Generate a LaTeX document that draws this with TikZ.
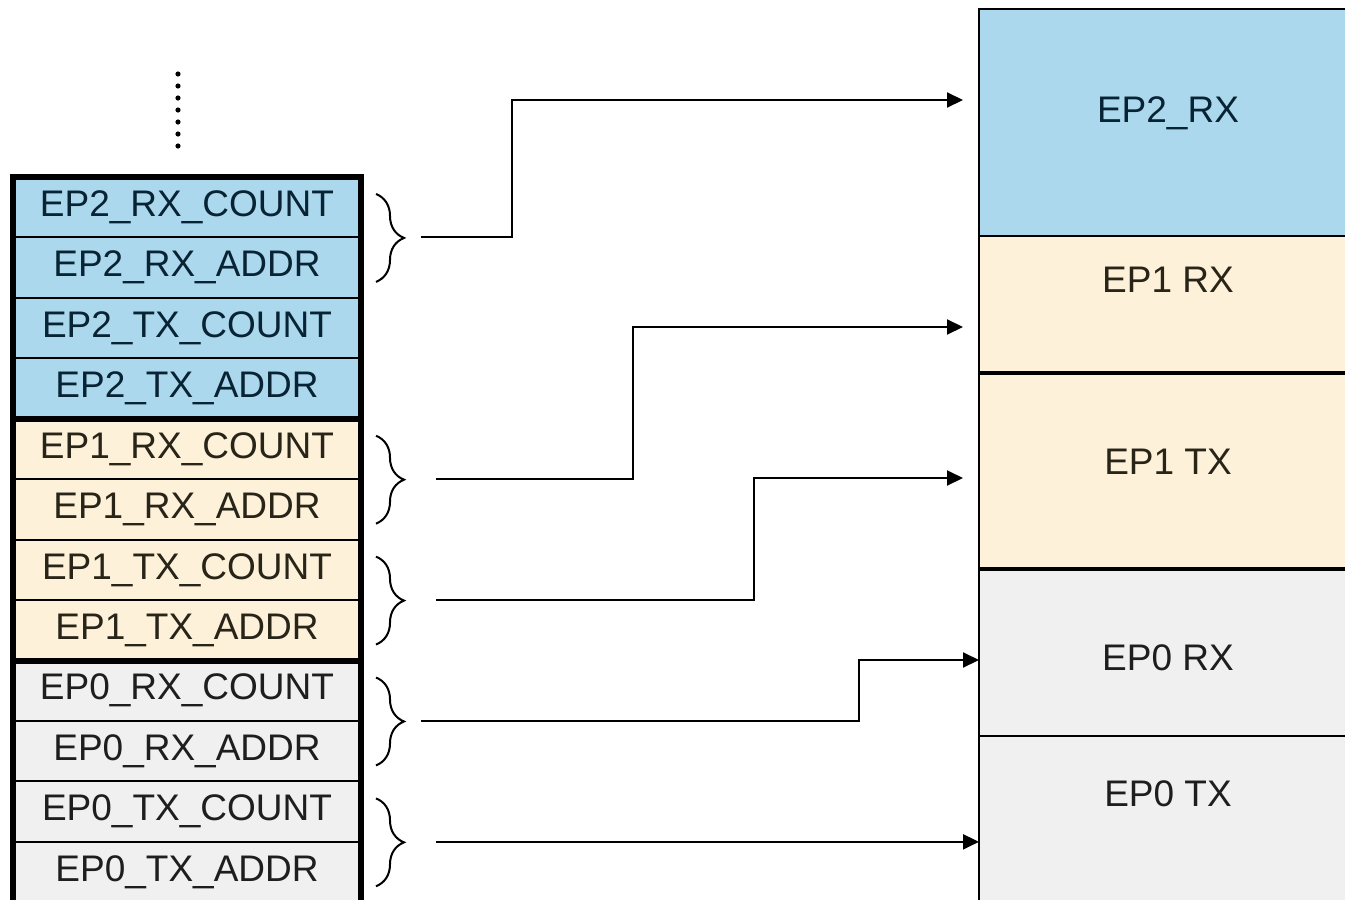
\documentclass[tikz,border=0pt]{standalone}
\usepackage{fontspec}
\setmainfont{Liberation Sans}
\usepackage{tikz}
\usetikzlibrary{matrix, arrows.meta, positioning, calc, decorations.pathreplacing}

\definecolor{bluecell}{RGB}{172,216,238}
\definecolor{beigecell}{RGB}{253,241,218}
\definecolor{graycell}{RGB}{240,240,240}
\definecolor{bluetext}{RGB}{8,36,52}
\definecolor{beigetext}{RGB}{40,36,24}
\definecolor{graytext}{RGB}{30,30,30}

\tikzset{
  cell/.style = {draw, line width=1pt, minimum width=174pt, minimum height=30.22pt,
                 inner sep=0pt, outer sep=0pt, font=\fontsize{18.5}{22}\selectfont},
  ep2/.style = {fill=bluecell, text=bluetext},
  ep1/.style = {fill=beigecell, text=beigetext},
  ep0/.style = {fill=graycell, text=graytext},
  grp/.style = {draw, line width=3pt},
  seg/.style = {draw, line width=0.9pt, minimum width=189pt, inner sep=0pt, outer sep=0pt},
  segtext/.style = {font=\fontsize{18.5}{22}\selectfont, inner sep=0pt},
  brc/.style = {decorate, decoration={brace, amplitude=14pt}, line width=1pt},
  link/.style = {draw, line width=1pt, -{Triangle[length=8pt, width=7.5pt]}}
}

\begin{document}
\begin{tikzpicture}[x=0.5pt, y=-0.5pt]
\useasboundingbox (0,0) rectangle (1345,900);

% more descriptors above
\foreach \k in {0,...,6}
  \fill (178,74+12*\k) circle (2.6);

% buffer descriptor table
\matrix (m) [matrix of nodes, row sep=-1pt, inner sep=0pt, outer sep=0pt,
             anchor=north west, nodes={cell}] at (12,176) {
|[ep2]| EP2\_RX\_COUNT \\
|[ep2]| EP2\_RX\_ADDR \\
|[ep2]| EP2\_TX\_COUNT \\
|[ep2]| EP2\_TX\_ADDR \\
|[ep1]| EP1\_RX\_COUNT \\
|[ep1]| EP1\_RX\_ADDR \\
|[ep1]| EP1\_TX\_COUNT \\
|[ep1]| EP1\_TX\_ADDR \\
|[ep0]| EP0\_RX\_COUNT \\
|[ep0]| EP0\_RX\_ADDR \\
|[ep0]| EP0\_TX\_COUNT \\
|[ep0]| EP0\_TX\_ADDR \\
};
\draw[grp] (m-1-1.north west) rectangle (m-4-1.south east);
\draw[grp] (m-5-1.north west) rectangle (m-8-1.south east);
\draw[grp] (m-9-1.north west) rectangle ($(m-12-1.south east)+(0,10)$);

% packet buffers
\node[seg, fill=bluecell, minimum height=113.5pt, anchor=north west] (ep2rx) at (979,9) {};
\node[seg, fill=beigecell, minimum height=68.5pt, below=0pt of ep2rx] (ep1rx) {};
\node[seg, fill=beigecell, minimum height=98pt, below=0pt of ep1rx] (ep1tx) {};
\node[seg, fill=graycell, minimum height=83.5pt, below=0pt of ep1tx] (ep0rx) {};
\node[seg, fill=graycell, minimum height=100pt, below=0pt of ep0rx] (ep0tx) {};
\draw[line width=1.6pt] (ep1tx.north west) -- (ep1tx.north east);
\draw[line width=1.6pt] (ep0rx.north west) -- (ep0rx.north east);

\node[segtext, text=bluetext] (ep2rxt) at ($(ep2rx.north)+(0,104)$) {EP2\_RX};
\node[segtext, text=beigetext] (ep1rxt) at ($(ep1rx.north)+(0,44)$) {EP1 RX};
\node[segtext, text=beigetext] (ep1txt) at ($(ep1tx.north)+(0,89)$) {EP1 TX};
\node[segtext, text=graytext] (ep0rxt) at ($(ep0rx.north)+(0,89)$) {EP0 RX};
\node[segtext, text=graytext] (ep0txt) at ($(ep0tx.north)+(0,58)$) {EP0 TX};

% braces grouping address/count pairs
\draw[brc] ($(m-1-1.north east)+(15,17)$) -- ($(m-2-1.south east)+(15,-16)$);
\draw[brc] ($(m-5-1.north east)+(15,17)$) -- ($(m-6-1.south east)+(15,-16)$);
\draw[brc] ($(m-7-1.north east)+(15,17)$) -- ($(m-8-1.south east)+(15,-16)$);
\draw[brc] ($(m-9-1.north east)+(15,17)$) -- ($(m-10-1.south east)+(15,-16)$);
\draw[brc] ($(m-11-1.north east)+(15,17)$) -- ($(m-12-1.south east)+(15,-16)$);

\coordinate (s1) at ($(m-1-1.south east)+(60,0)$);
\coordinate (s2) at ($(m-5-1.south east)+(75,0)$);
\coordinate (s3) at ($(m-7-1.south east)+(75,0)$);
\coordinate (s4) at ($(m-9-1.south east)+(60,0)$);
\coordinate (s5) at ($(m-11-1.south east)+(75,0)$);

\coordinate (e1) at ($(ep2rx.north west)+(-16,91)$);
\coordinate (e2) at ($(ep1rx.north west)+(-16,91)$);
\coordinate (e3) at ($(ep1tx.north west)+(-16,105)$);
\coordinate (e4) at ($(ep0rx.north west)+(0,91)$);
\coordinate (e5) at (s5 -| ep0tx.west);

% pointers into the packet memory
\draw[link] (s1) -- ++(91,0) |- (e1);
\draw[link] (s2) -- ++(197,0) |- (e2);
\draw[link] (s3) -- ++(318,0) |- (e3);
\draw[link] (s4) -- ++(438,0) |- (e4);
\draw[link] (s5) -- (e5);
\end{tikzpicture}
\end{document}
